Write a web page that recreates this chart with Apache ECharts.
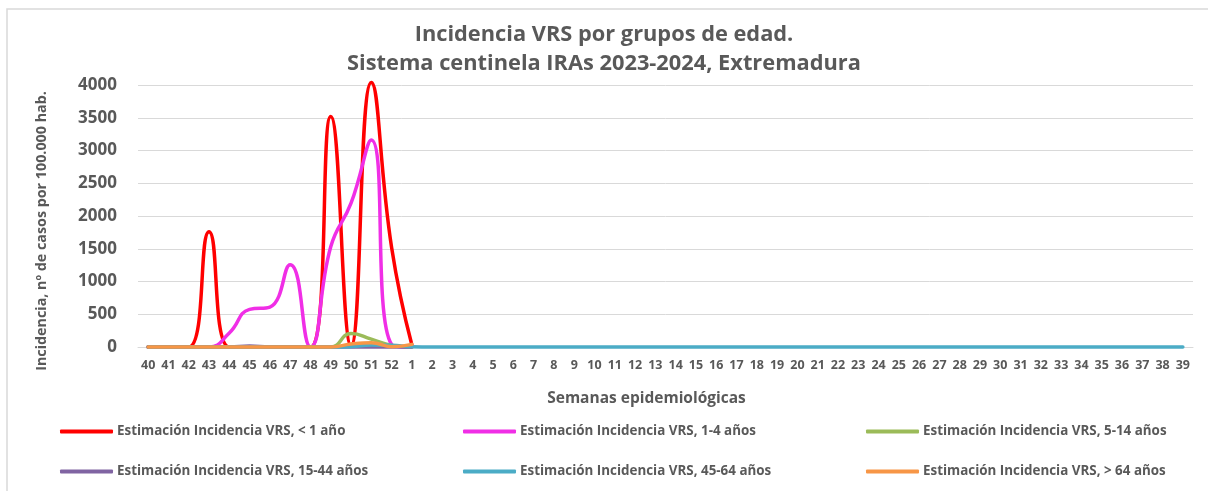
<!DOCTYPE html>
<html>
<head>
<meta charset="utf-8">
<title>Incidencia VRS por grupos de edad</title>
<script src="https://cdn.jsdelivr.net/npm/echarts@6/dist/echarts.min.js"></script>
<style>
  html, body { margin: 0; padding: 0; background: #fff; }
  #chart { width: 1208px; height: 491px; }
</style>
</head>
<body>
<div id="chart"></div>
<script>
// semanas epidemiologicas 40/2023 .. 39/2024
const semanas = ['40', '41', '42', '43', '44', '45', '46', '47', '48', '49', '50', '51', '52',
  '1', '2', '3', '4', '5', '6', '7', '8', '9', '10', '11', '12', '13', '14', '15', '16', '17',
  '18', '19', '20', '21', '22', '23', '24', '25', '26', '27', '28', '29', '30', '31', '32', '33',
  '34', '35', '36', '37', '38', '39'];

// valores (hasta la semana 1, el resto sin dato)
const menor1 = [0, 0, 0, 1760, 0, 0, 0, 0, 0, 3520, 20, 4040, 1520, 30];
const de1a4 = [0, 0, 0, 0, 215, 575, 610, 1255, 0, 1530, 2195, 3160, 40, 0];
const de5a14 = [0, 0, 0, 0, 0, 0, 0, 0, 0, 0, 205, 120, 25, 0];
const de15a44 = [0, 0, 0, 0, 0, 15, 0, 0, 0, 0, 0, 0, 0, 0];
const de45a64 = [0, 0, 0, 0, 0, 0, 0, 0, 0, 0, 5, 30, 25, 5,
  0, 0, 0, 0, 0, 0, 0, 0, 0, 0, 0, 0, 0, 0, 0, 0, 0, 0, 0, 0, 0, 0, 0, 0, 0, 0, 0, 0, 0, 0, 0, 0, 0, 0, 0, 0, 0, 0];
const mayor64 = [0, 0, 0, 0, 0, 0, 0, 0, 0, 0, 45, 65, 5, 40];

const yTicks = {min: 0, max: 4000, interval: 500};

const grupos = [
  {name: 'Estimación Incidencia VRS, < 1 año', data: menor1, color: '#FF0000'},
  {name: 'Estimación Incidencia VRS, 1-4 años', data: de1a4, color: '#F02EE6'},
  {name: 'Estimación Incidencia VRS, 5-14 años', data: de5a14, color: '#9BBB59'},
  {name: 'Estimación Incidencia VRS, 15-44 años', data: de15a44, color: '#8064A2'},
  {name: 'Estimación Incidencia VRS, 45-64 años', data: de45a64, color: '#4BACC6'},
  {name: 'Estimación Incidencia VRS, > 64 años', data: mayor64, color: '#F79646'}
];

const font = "'Open Sans', sans-serif";
const gris = '#595959';

const chart = echarts.init(document.getElementById('chart'), null, {renderer: 'canvas'});

// una leyenda por elemento: 3 columnas x 2 filas
const legendPos = [[55, 420], [458, 420], [861, 420], [55, 460], [458, 460], [861, 460]];
const legends = grupos.map((g, i) => ({
  data: [g.name],
  left: legendPos[i][0],
  top: legendPos[i][1],
  icon: 'roundRect',
  itemWidth: 53,
  itemHeight: 4,
  itemGap: 0,
  textStyle: {fontFamily: font, fontWeight: 'bold', fontSize: 13.4, color: gris, padding: [0, 0, 0, -1]}
}));

const option = {
  backgroundColor: '#fff',
  animation: false,
  title: {
    text: 'Incidencia VRS por grupos de edad.\nSistema centinela IRAs 2023-2024, Extremadura',
    left: 'center',
    top: 15,
    textStyle: {fontFamily: font, fontWeight: 'bold', fontSize: 21.8, color: gris, lineHeight: 29}
  },
  legend: legends,
  grid: {left: 138, right: 15, top: 85, bottom: 144},
  xAxis: {
    type: 'category',
    data: semanas,
    boundaryGap: true,
    name: 'Semanas epidemiológicas',
    nameLocation: 'middle',
    nameGap: 44,
    nameTextStyle: {fontFamily: font, fontWeight: 'bold', fontSize: 15.5, color: gris, padding: [0, 38, 0, 0]},
    axisLine: {lineStyle: {color: '#d9d9d9', width: 1}},
    axisTick: {show: false},
    axisLabel: {fontFamily: font, fontWeight: 'bold', fontSize: 12.5, color: gris, interval: 0, margin: 12}
  },
  yAxis: {
    type: 'value',
    min: yTicks.min,
    max: yTicks.max,
    interval: yTicks.interval,
    name: 'Incidencia, nº de casos por 100.000 hab.',
    nameLocation: 'middle',
    nameGap: 89,
    nameTextStyle: {fontFamily: font, fontWeight: 'bold', fontSize: 14.3, color: gris, padding: [0, 30, 0, 0]},
    axisLine: {show: false},
    axisTick: {show: false},
    axisLabel: {
      fontFamily: font, fontWeight: 'bold', fontSize: 17, color: gris, margin: 21,
      formatter: v => String(v)
    },
    splitLine: {lineStyle: {color: '#d9d9d9', width: 1}}
  },
  graphic: [{
    type: 'rect',
    shape: {x: 7, y: 9, width: 1300, height: 600},
    style: {fill: 'none', stroke: '#d9d9d9', lineWidth: 1.5},
    silent: true
  }],
  series: grupos.map(g => ({
    name: g.name,
    type: 'line',
    data: g.data,
    smooth: 0.5,
    showSymbol: false,
    clip: false,
    color: g.color,
    lineStyle: {width: 3.5, color: g.color, cap: 'round'}
  }))
};

chart.setOption(option);
</script>
</body>
</html>
